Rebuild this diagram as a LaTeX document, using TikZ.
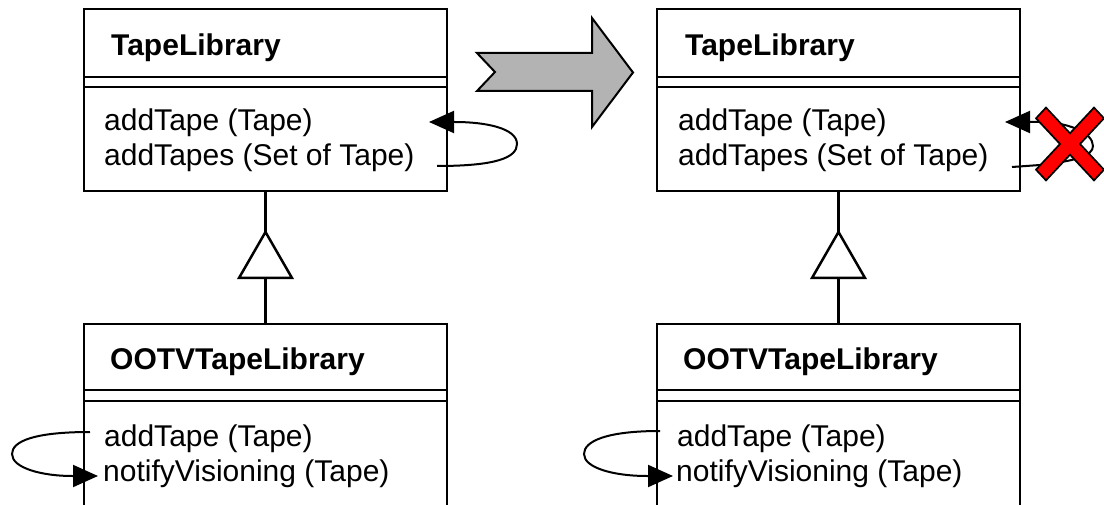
\documentclass[tikz,border=0pt]{standalone}
\usepackage{fontspec}
\setmainfont{Liberation Sans}
\usetikzlibrary{arrows.meta}
\definecolor{shaftgray}{HTML}{B3B3B3}
\definecolor{crossred}{HTML}{FF0000}
\begin{document}
\begin{tikzpicture}[x=1pt, y=-1pt,
  umlbox/.style={draw, line width=2.2pt, minimum width=363pt, inner sep=0pt, outer sep=0pt},
  sepline/.style={line width=2.6pt},
  cname/.style={font=\fontsize{30}{35}\selectfont\bfseries, anchor=base west, inner sep=0pt},
  op/.style={font=\fontsize{30}{35}\selectfont, anchor=base west, inner sep=0pt},
  call/.style={line width=2pt, -{Triangle[length=25pt, width=22pt]}},
  gen/.style={line width=2.5pt},
  gentri/.style={line width=2.5pt, fill=white, line join=miter},
]
\useasboundingbox (0,0) rectangle (1104,505);
\clip (0,0) rectangle (1104,505);

% ---------- left: before ----------
\node[umlbox, minimum height=182pt] (lib) at (265.5,100) {};
\draw[sepline] (lib.west |- 0,77) -- (lib.east |- 0,77);
\draw[sepline] (lib.west |- 0,87) -- (lib.east |- 0,87);
\node[cname] (libname) at (111,56) {TapeLibrary};
\node[op] (libop1) at (104,131) {addTape (Tape)};
\node[op] (libop2) at (104,166) {addTapes (Set of Tape)};

\node[umlbox, minimum height=200pt] (oot) at (265.5,424) {};
\draw[sepline] (oot.west |- 0,390) -- (oot.east |- 0,390);
\draw[sepline] (oot.west |- 0,401) -- (oot.east |- 0,401);
\node[cname] (ootname) at (110,370) {OOTVTapeLibrary};
\node[op] (ootop1) at (104,446) {addTape (Tape)};
\node[op] (ootop2) at (103,481) {notifyVisioning (Tape)};

% generalisation
\coordinate (g1apex) at (265.5,232);
\coordinate (g1base) at (265.5,278);
\draw[gen] (lib.south) -- (g1apex);
\draw[gentri] (g1apex) -- (239,278) -- (292,278) -- cycle;
\draw[gen] (g1base) -- (oot.north);

% self calls
\coordinate (l1out) at (437,166);
\coordinate (l1in) at (429,122);
\draw[call] (l1out) .. controls (495,166) and (517,158) .. (517,144)
  .. controls (517,128) and (485,122) .. (455,122) -- (l1in);
\coordinate (l3out) at (90,432);
\coordinate (l3in) at (98,476);
\draw[call] (l3out) .. controls (35,432) and (12,441) .. (12,454)
  .. controls (12,468) and (42,476) .. (72,476) -- (l3in);

% ---------- transformation arrow ----------
\draw[line width=2pt, fill=shaftgray, line join=miter]
  (477,53) -- (495,72) -- (477,91) -- (592,91) -- (592,127) -- (633,72.5)
  -- (592,18) -- (592,53) -- cycle;

% ---------- right: after ----------
\node[umlbox, minimum height=182pt] (rlib) at (838.5,100) {};
\draw[sepline] (rlib.west |- 0,77) -- (rlib.east |- 0,77);
\draw[sepline] (rlib.west |- 0,87) -- (rlib.east |- 0,87);
\node[cname] (rlibname) at (685,56) {TapeLibrary};
\node[op] (rlibop1) at (678,131) {addTape (Tape)};
\node[op] (rlibop2) at (678,166) {addTapes (Set of Tape)};

\node[umlbox, minimum height=200pt] (root) at (838.5,424) {};
\draw[sepline] (root.west |- 0,390) -- (root.east |- 0,390);
\draw[sepline] (root.west |- 0,401) -- (root.east |- 0,401);
\node[cname] (rootname) at (683,370) {OOTVTapeLibrary};
\node[op] (rootop1) at (677,446) {addTape (Tape)};
\node[op] (rootop2) at (676,481) {notifyVisioning (Tape)};

\coordinate (g2apex) at (838.5,232);
\coordinate (g2base) at (838.5,278);
\draw[gen] (rlib.south) -- (g2apex);
\draw[gentri] (g2apex) -- (812,278) -- (865,278) -- cycle;
\draw[gen] (g2base) -- (root.north);

\coordinate (r1out) at (1012,167);
\coordinate (r1in) at (1005,122);
\draw[call] (r1out) -- (1040,165) .. controls (1075,161) and (1093,156) .. (1093,146)
  .. controls (1093,132) and (1066,122) .. (1040,122) -- (r1in);
\coordinate (r3out) at (660,431);
\coordinate (r3in) at (673,476);
\draw[call] (r3out) .. controls (607,431) and (584,441) .. (584,454)
  .. controls (584,468) and (614,476) .. (647,476) -- (r3in);

% crossed-out mark over the removed self call
\draw[line width=1.7pt, fill=crossred, line join=miter, shift={(1070,144)}]
  (0,-10.7) -- (24,-36.4) -- (34,-25.7) -- (10,0) -- (34,25.7) -- (24,36.4)
  -- (0,10.7) -- (-24,36.4) -- (-34,25.7) -- (-10,0) -- (-34,-25.7) -- (-24,-36.4) -- cycle;
\end{tikzpicture}
\end{document}
